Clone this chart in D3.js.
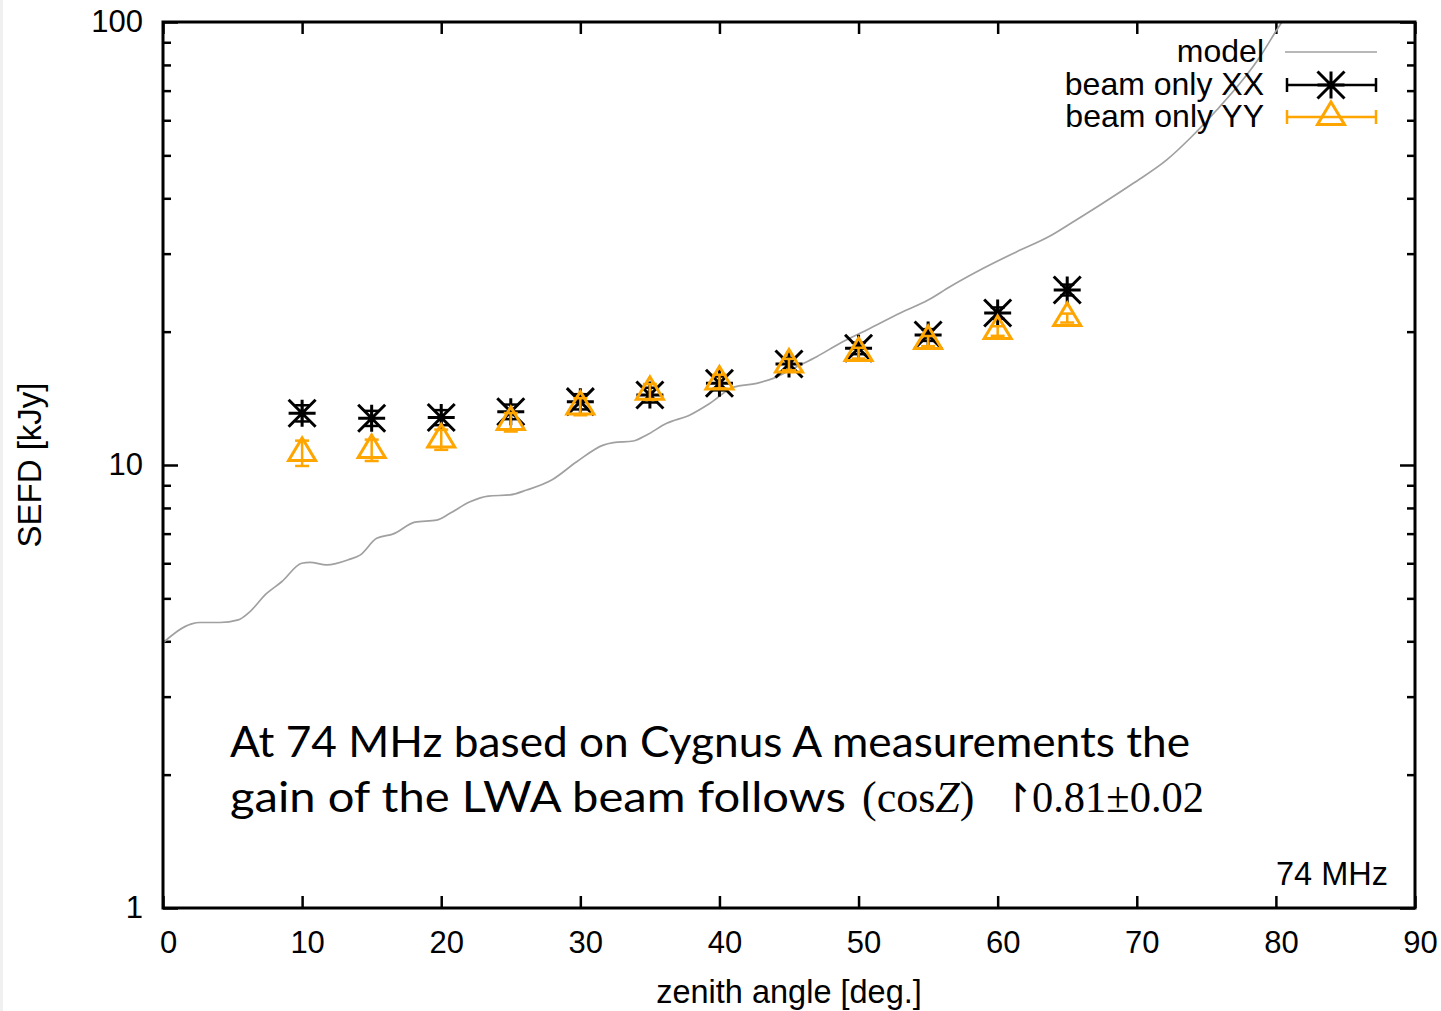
<!DOCTYPE html>
<html>
<head>
<meta charset="utf-8">
<script src="https://cdn.jsdelivr.net/npm/d3@7"></script>
<style>
  html, body { margin: 0; padding: 0; background: #ffffff; }
  svg { display: block; }
</style>
</head>
<body>
<svg id="chart" width="1441" height="1011"></svg>
<script>
// Zenith angle (deg) of each measurement
const angles = [10, 15, 20, 25, 30, 35, 40, 45, 50, 55, 60, 65];
// SEFD in kJy, X polarisation beam, with 1-sigma errors
const sefdXX = [13.09, 12.75, 12.8, 13.19, 13.9, 14.39, 15.29, 16.9, 18.34, 19.66, 22.03, 24.84];
const errXX  = [0.55, 0.5, 0.5, 0.5, 0.55, 0.55, 0.55, 0.55, 0.55, 0.6, 0.65, 0.7];
// SEFD in kJy, Y polarisation beam, with 1-sigma errors
const sefdYY = [10.65, 10.81, 11.42, 12.5, 13.55, 14.63, 15.44, 16.86, 17.89, 19.05, 20.07, 21.47];
const errYY  = [0.7, 0.6, 0.6, 0.6, 0.6, 0.6, 0.55, 0.5, 0.5, 0.5, 0.5, 0.5];
// Model SEFD curve versus zenith angle
const modelAngle = [0, 2.06, 2.66, 4.1, 5.41, 6.13, 7.45, 8.53, 9.97, 10.57, 11.77, 13.44, 14.16, 15.36, 16.56,
  18.11, 19.67, 20.63, 22.07, 23.38, 24.94, 26.14, 27.94, 29.74, 31.65, 32.37, 33.81, 34.77, 36.21, 37.88,
  39.32, 41.0, 42.68, 43.87, 45.55, 46.99, 48.67, 50.59, 53.0, 55.0, 56.57, 58.97, 61.37, 63.76, 65.44,
  67.36, 69.75, 72.15, 73.83, 75.75, 77.42, 78.86, 80.06, 80.53];
const modelSefd = [3.97, 4.38, 4.41, 4.41, 4.47, 4.63, 5.13, 5.45, 6.0, 6.03, 5.95, 6.13, 6.26, 6.83, 6.99,
  7.43, 7.51, 7.78, 8.26, 8.51, 8.56, 8.78, 9.25, 10.17, 11.09, 11.23, 11.33, 11.69, 12.42, 12.97,
  13.78, 14.98, 15.29, 15.69, 16.67, 17.56, 18.83, 20.17, 22.03, 23.57, 25.26, 27.8, 30.3, 32.88, 35.42,
  38.64, 43.25, 48.82, 54.65, 63.3, 72.7, 83.5, 95.92, 101.0];
// Axis ticks
const xTicks = [0, 10, 20, 30, 40, 50, 60, 70, 80, 90];
const yMajor = [1, 10, 100];
const yMinor = [2, 3, 4, 5, 6, 7, 8, 9, 20, 30, 40, 50, 60, 70, 80, 90];

const FONT = "'Liberation Sans', Arial, Helvetica, sans-serif";
const ORANGE = "#ffa500";

const svg = d3.select("#chart");
svg.append("rect").attr("x", 0).attr("y", 0).attr("width", 1441).attr("height", 1011).attr("fill", "#fff");
svg.append("rect").attr("x", 0).attr("y", 0).attr("width", 3).attr("height", 1011).attr("fill", "#f0f0f0");

const L = 163, R = 1415, T = 22, B = 908;
const x = d3.scaleLinear().domain([0, 90]).range([L, R]);
const y = d3.scaleLog().domain([1, 100]).range([B, T]);

svg.append("clipPath").attr("id", "plotclip")
  .append("rect").attr("x", L).attr("y", T).attr("width", R - L).attr("height", B - T);

function styleAxis(g) {
  g.select(".domain").remove();
  g.selectAll(".tick line").attr("stroke", "#000").attr("stroke-width", 2.5);
  g.selectAll(".tick text").attr("fill", "#000").style("font-family", FONT).style("font-size", "31px");
}

// bottom axis with labels
svg.append("g").attr("transform", `translate(0,${B})`)
  .call(d3.axisBottom(x).tickValues(xTicks).tickSizeInner(-12).tickSizeOuter(0).tickPadding(23).tickFormat(d3.format("d")))
  .call(styleAxis)
  .call(g => g.selectAll(".tick text").attr("dx", 5));
// top axis, ticks only
svg.append("g").attr("transform", `translate(0,${T})`)
  .call(d3.axisTop(x).tickValues(xTicks).tickSizeInner(-12).tickSizeOuter(0).tickFormat(""))
  .call(styleAxis);
// left axis major with labels
svg.append("g").attr("transform", `translate(${L},0)`)
  .call(d3.axisLeft(y).tickValues(yMajor).tickSizeInner(-15).tickSizeOuter(0).tickPadding(20).tickFormat(d3.format("d")))
  .call(styleAxis);
// left minor
svg.append("g").attr("transform", `translate(${L},0)`)
  .call(d3.axisLeft(y).tickValues(yMinor).tickSizeInner(-8).tickSizeOuter(0).tickFormat(""))
  .call(styleAxis);
// right major + minor
svg.append("g").attr("transform", `translate(${R},0)`)
  .call(d3.axisRight(y).tickValues(yMajor).tickSizeInner(-15).tickSizeOuter(0).tickFormat(""))
  .call(styleAxis);
svg.append("g").attr("transform", `translate(${R},0)`)
  .call(d3.axisRight(y).tickValues(yMinor).tickSizeInner(-8).tickSizeOuter(0).tickFormat(""))
  .call(styleAxis);

// model curve
const modelData = modelAngle.map((a, i) => [a, modelSefd[i]]);
svg.append("path")
  .datum(modelData)
  .attr("clip-path", "url(#plotclip)")
  .attr("fill", "none")
  .attr("stroke", "#a0a0a0")
  .attr("stroke-width", 1.7)
  .attr("d", d3.line().x(d => x(d[0])).y(d => y(d[1])).curve(d3.curveMonotoneX));

// marker shapes
const S = 13.5;
const starPath = `M${-S},0H${S}M0,${-S}V${S}M${-S},${-S}L${S},${S}M${-S},${S}L${S},${-S}`;
const triPath = `M0,-15L13.5,7.5L-13.5,7.5Z`;
const CAP = 7;

function drawSeries(vals, errs, color, path) {
  const g = svg.append("g");
  const pts = angles.map((a, i) => ({ a, v: vals[i], e: errs[i] }));
  const eb = g.selectAll(".eb").data(pts).enter().append("g")
    .attr("stroke", color).attr("stroke-width", 2.5).attr("fill", "none");
  eb.append("line").attr("x1", d => x(d.a)).attr("x2", d => x(d.a))
    .attr("y1", d => y(d.v - d.e)).attr("y2", d => y(d.v + d.e));
  eb.append("line").attr("x1", d => x(d.a) - CAP).attr("x2", d => x(d.a) + CAP)
    .attr("y1", d => y(d.v - d.e)).attr("y2", d => y(d.v - d.e));
  eb.append("line").attr("x1", d => x(d.a) - CAP).attr("x2", d => x(d.a) + CAP)
    .attr("y1", d => y(d.v + d.e)).attr("y2", d => y(d.v + d.e));
  g.selectAll(".mk").data(pts).enter().append("path")
    .attr("transform", d => `translate(${x(d.a)},${y(d.v)})`)
    .attr("d", path).attr("fill", "none").attr("stroke", color).attr("stroke-width", 3);
}
drawSeries(sefdXX, errXX, "#000", starPath);
drawSeries(sefdYY, errYY, ORANGE, triPath);

// frame
svg.append("rect").attr("x", L).attr("y", T).attr("width", R - L).attr("height", B - T)
  .attr("fill", "none").attr("stroke", "#000").attr("stroke-width", 3);

// legend
const legend = [
  { label: "model", color: "#a0a0a0", y: 52, kind: "line" },
  { label: "beam only XX", color: "#000", y: 85, kind: "star" },
  { label: "beam only YY", color: ORANGE, y: 117, kind: "tri" }
];
const lg = svg.append("g");
legend.forEach(d => {
  lg.append("text").attr("x", 1264).attr("y", d.y).attr("dy", "0.31em")
    .attr("text-anchor", "end").style("font-family", FONT).style("font-size", "32px").text(d.label);
  if (d.kind === "line") {
    lg.append("line").attr("x1", 1285).attr("x2", 1377).attr("y1", d.y).attr("y2", d.y)
      .attr("stroke", d.color).attr("stroke-width", 1.7);
  } else {
    const gg = lg.append("g").attr("stroke", d.color).attr("fill", "none");
    gg.append("line").attr("x1", 1287).attr("x2", 1376).attr("y1", d.y).attr("y2", d.y).attr("stroke-width", 2.5);
    gg.append("line").attr("x1", 1287).attr("x2", 1287).attr("y1", d.y - CAP).attr("y2", d.y + CAP).attr("stroke-width", 2.5);
    gg.append("line").attr("x1", 1376).attr("x2", 1376).attr("y1", d.y - CAP).attr("y2", d.y + CAP).attr("stroke-width", 2.5);
    gg.append("path").attr("transform", `translate(1331,${d.y})`)
      .attr("d", d.kind === "star" ? starPath : triPath).attr("stroke-width", 3);
  }
});

// frequency label
svg.append("text").attr("x", 1388).attr("y", 885).attr("text-anchor", "end")
  .style("font-family", FONT).style("font-size", "32.5px").text("74 MHz");

// axis titles
svg.append("text").attr("x", 789).attr("y", 1003).attr("text-anchor", "middle")
  .style("font-family", FONT).style("font-size", "32.5px").text("zenith angle [deg.]");
svg.append("text").attr("transform", "translate(41,465) rotate(-90)").attr("text-anchor", "middle")
  .style("font-family", FONT).style("font-size", "33px").text("SEFD [kJy]");

// annotation
const ANN = "Lato, 'Open Sans', sans-serif";
const SERIF = "'Liberation Serif', 'DejaVu Serif', serif";
svg.append("text").attr("x", 230).attr("y", 757)
  .attr("textLength", 960).attr("lengthAdjust", "spacingAndGlyphs")
  .style("font-family", ANN).style("font-size", "42px").text("At 74 MHz based on Cygnus A measurements the");
svg.append("text").attr("x", 230).attr("y", 812)
  .attr("textLength", 616).attr("lengthAdjust", "spacingAndGlyphs")
  .style("font-family", ANN).style("font-size", "42px").text("gain of the LWA beam follows");
const eq = svg.append("text").attr("x", 862).attr("y", 812)
  .style("font-family", SERIF).style("font-size", "44px");
eq.append("tspan").text("(cos");
eq.append("tspan").style("font-style", "italic").text("Z");
eq.append("tspan").text(")");
svg.append("text").attr("x", 1001).attr("y", 812)
  .style("font-family", "'DejaVu Sans', sans-serif").style("font-size", "40px").text("↾");
svg.append("text").attr("x", 1032).attr("y", 812)
  .attr("textLength", 172).attr("lengthAdjust", "spacingAndGlyphs")
  .style("font-family", SERIF).style("font-size", "44px").text("0.81±0.02");
</script>
</body>
</html>
